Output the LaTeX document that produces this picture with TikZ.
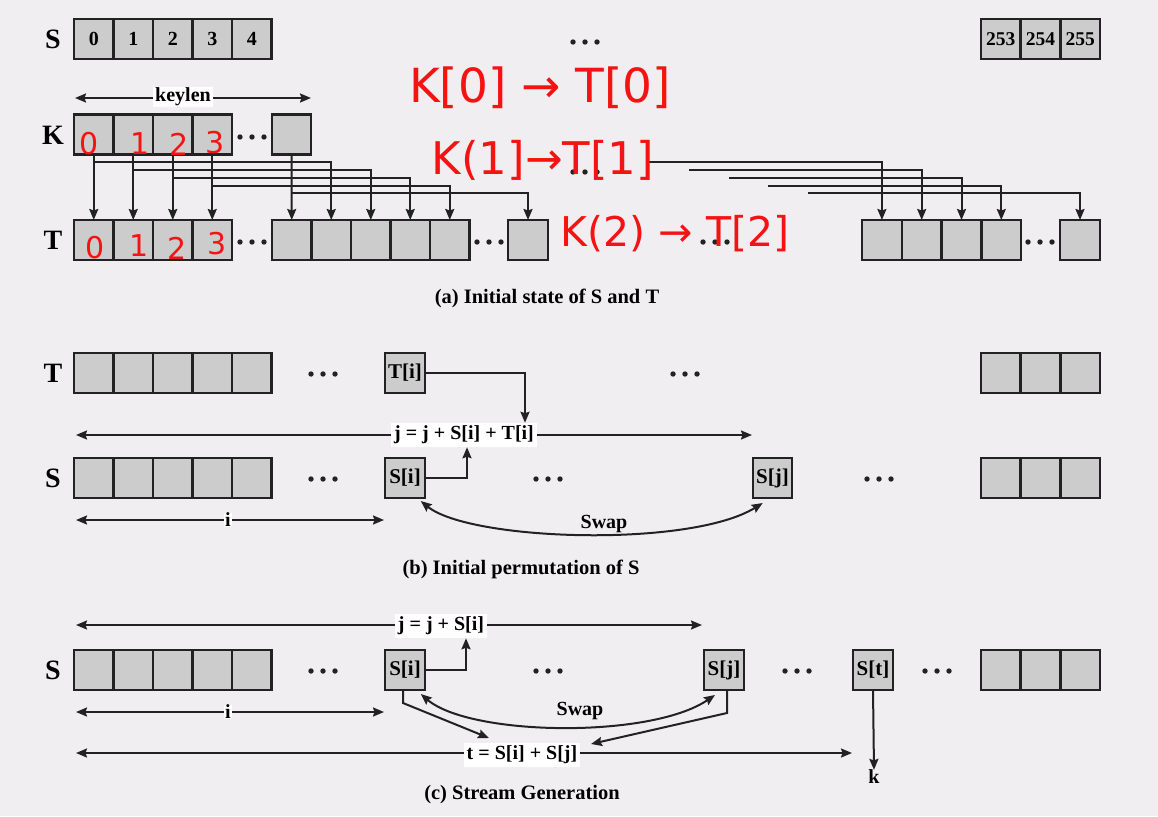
\documentclass[tikz,border=0pt]{standalone}
\usepackage{fontspec}
\setmainfont{Liberation Serif}
\newfontfamily\handfont{DejaVu Sans}
\usetikzlibrary{arrows.meta}
\definecolor{bg}{RGB}{240,238,241}
\definecolor{cellg}{RGB}{204,204,204}
\definecolor{ink}{RGB}{34,34,34}
\definecolor{pen}{RGB}{245,18,18}
\begin{document}
\begin{tikzpicture}[x=1pt,y=-1pt,
  cell/.style={draw=ink, fill=cellg, line width=2.2pt, minimum width=39.5pt, minimum height=40pt,
    inner sep=0pt, outer sep=0pt, font=\fontsize{20}{20}\selectfont\bfseries},
  cellbig/.style={cell, font=\fontsize{19.5}{19.5}\selectfont\bfseries},
  cellidx/.style={cell, font=\fontsize{21}{21}\selectfont\bfseries},
  rowlab/.style={font=\fontsize{28}{28}\selectfont\bfseries, inner sep=0pt},
  lbl/.style={font=\fontsize{20}{20}\selectfont\bfseries, inner sep=2pt},
  wlbl/.style={lbl, fill=white, inner xsep=3pt, inner ysep=3pt},
  captxt/.style={font=\fontsize{20.5}{20.5}\selectfont\bfseries, inner sep=0pt},
  hand/.style={text=pen, inner sep=0pt},
  arr/.style={-{Stealth[length=11pt,width=9pt,inset=1.5pt]}, line width=2pt, draw=ink},
  dbl/.style={{Stealth[length=11pt,width=9pt,inset=1.5pt]}-{Stealth[length=11pt,width=9pt,inset=1.5pt]}, line width=2pt, draw=ink},
  ell/.pic={\fill[ink] (-12,0) circle (2.7); \fill[ink] (0,0) circle (2.7); \fill[ink] (12,0) circle (2.7);}
]
\fill[bg] (0,0) rectangle (1158,816);

% ================= (a) =================
\node[rowlab] (aSl) at (53,39) {S};
\foreach \k in {0,...,4} \node[cell] (aS\k) at ({93.75+39.5*\k},39) {\k};
\pic at (585,42) {ell};
\foreach \k/\v in {0/253,1/254,2/255} \node[cellbig] (aSr\k) at ({1000.8+39.7*\k},39) {\v};

\coordinate (kl1) at (75,98);
\coordinate (kl2) at (311,98);
\draw[dbl] (kl1) -- (kl2);
\node[lbl, fill=white, inner ysep=1pt] (klab) at (183,97) {keylen};

\node[rowlab] (aKl) at (53,135) {K};
\foreach \k in {0,...,3} \node[cell] (aK\k) at ({93.75+39.5*\k},134.5) {};
\pic at (252,137) {ell};
\node[cell] (aK4) at (291.5,134.5) {};

\node[rowlab] (aTl) at (53,240) {T};
\foreach \k in {0,...,3} \node[cell] (aT\k) at ({93.75+39.5*\k},240) {};
\pic at (252,242) {ell};
\foreach \k in {0,...,4} \node[cell] (aU\k) at ({291.75+39.5*\k},240) {};
\pic at (489,242) {ell};
\node[cell] (aU5) at (528,240) {};
\pic at (715,242) {ell};
\foreach \k in {0,...,3} \node[cell] (aV\k) at ({881.9+39.8*\k},240) {};
\pic at (1040,242) {ell};
\node[cell] (aV4) at (1080,240) {};
\pic at (585,172) {ell};

\foreach \k in {0,...,3} \draw[arr] (aK\k.south) -- (aT\k.north);
\draw[arr] (aK4.south) -- (aU0.north);
\draw[arr] (aK0.south |- 0,162) -| (aU1.north);
\draw[arr] (aK1.south |- 0,170) -| (aU2.north);
\draw[arr] (aK2.south |- 0,178) -| (aU3.north);
\draw[arr] (aK3.south |- 0,186) -| (aU4.north);
\draw[arr] (aK4.south |- 0,193) -| (aU5.north);

\coordinate (r0) at (649,162);
\coordinate (r1) at (689,170);
\coordinate (r2) at (729,178);
\coordinate (r3) at (768,186);
\coordinate (r4) at (808,193);
\foreach \k in {0,...,4} \draw[arr] (r\k) -| (aV\k.north);

\node[captxt] (capa) at (547,298) {(a) Initial state of S and T};

% handwritten notes
\node[hand, font=\handfont\fontsize{47}{47}\selectfont] (hw1) at (540,88) {K[0] → T[0]};
\node[hand, font=\handfont\fontsize{45}{45}\selectfont] (hw2) at (543,160) {K(1]→T[1]};
\node[hand, font=\handfont\fontsize{41}{41}\selectfont] (hw3) at (675,234) {K(2) → T[2]};
\foreach \x/\y/\d [count=\n] in {89/144/0,140/144/1,179/144/2,215/143/3,95/248/0,139/246/1,177/248/2,217/244/3}
  \node[hand, font=\handfont\fontsize{30}{30}\selectfont] (rd\n) at (\x,\y) {\d};

% ================= (b) =================
\node[rowlab] (bTl) at (53,373) {T};
\foreach \k in {0,...,4} \node[cell] (bT\k) at ({93.75+39.5*\k},373) {};
\pic at (323,374) {ell};
\node[cellidx] (bTi) at (405,373) {T[i]};
\pic at (685,374) {ell};
\foreach \k in {0,...,2} \node[cell] (bTr\k) at ({1000.8+39.7*\k},373) {};

\coordinate (b1l) at (76,435);
\coordinate (b1r) at (752,435);
\draw[dbl] (b1l) -- (b1r);
\node[wlbl] (bj) at (464,435) {j = j + S[i] + T[i]};

\node[rowlab] (bSl) at (53,478) {S};
\foreach \k in {0,...,4} \node[cell] (bS\k) at ({93.75+39.5*\k},478) {};
\pic at (323,479) {ell};
\node[cellidx] (bSi) at (405,478) {S[i]};
\pic at (548,479) {ell};
\node[cellidx] (bSj) at (772.5,478) {S[j]};
\pic at (879,479) {ell};
\foreach \k in {0,...,2} \node[cell] (bSr\k) at ({1000.8+39.7*\k},478) {};

\draw[arr] (bTi.east) -| ([xshift=61pt]bj.north);
\draw[arr] (bSi.east) -| ([xshift=3pt]bj.south);

\coordinate (bi1) at (76,520);
\coordinate (bi2) at (384,520);
\draw[dbl] (bi1) -- (bi2);
\node[lbl, fill=white, inner xsep=1pt, inner ysep=0pt] (bil) at (228,520) {i};

\draw[dbl] ([shift={(-4,3)}]bSi.south east) .. controls (470,541) and (690,548) .. ([shift={(10,5)}]bSj.south west);
\node[lbl] (bsw) at (604,524) {Swap};

\node[captxt] (capb) at (521,569) {(b) Initial permutation of S};

% ================= (c) =================
\coordinate (c1l) at (76,625);
\coordinate (c1r) at (702,625);
\draw[dbl] (c1l) -- (c1r);
\node[wlbl] (cj) at (441,626) {j = j + S[i]};

\node[rowlab] (cSl) at (53,670) {S};
\foreach \k in {0,...,4} \node[cell] (cS\k) at ({93.75+39.5*\k},670) {};
\pic at (323,671) {ell};
\node[cellidx] (cSi) at (405,670) {S[i]};
\pic at (548,671) {ell};
\node[cellidx] (cSj) at (724,670) {S[j]};
\pic at (797,671) {ell};
\node[cellidx] (cSt) at (873,670) {S[t]};
\pic at (937,671) {ell};
\foreach \k in {0,...,2} \node[cell] (cSr\k) at ({1000.8+39.7*\k},670) {};

\draw[arr] (cSi.east) -| ([xshift=25pt]cj.south);

\coordinate (ci1) at (76,712);
\coordinate (ci2) at (384,712);
\draw[dbl] (ci1) -- (ci2);
\node[lbl, fill=white, inner xsep=1pt, inner ysep=0pt] (cil) at (228,712) {i};

\draw[dbl] ([shift={(-4,4)}]cSi.south east) .. controls (470,736) and (650,739) .. ([shift={(-9,5)}]cSj.south);
\node[lbl] (csw) at (580,711) {Swap};

\coordinate (c2l) at (76,753);
\coordinate (c2r) at (852,753);
\draw[dbl] (c2l) -- (c2r);
\node[wlbl] (ct) at (522,755) {t = S[i] + S[j]};

\coordinate (ta) at (489,738);
\coordinate (tb) at (591,744);
\draw[arr] ([xshift=-2pt]cSi.south) -- ++(0,13) -- (ta);
\draw[arr] ([xshift=3pt]cSj.south) -- ++(0,23) -- (tb);

\node[lbl, inner sep=0pt] (ck) at (874,777) {k};
\draw[arr] (cSt.south) -- (ck.north);

\node[captxt] (capc) at (522,795) {(c) Stream Generation};
\end{tikzpicture}
\end{document}
